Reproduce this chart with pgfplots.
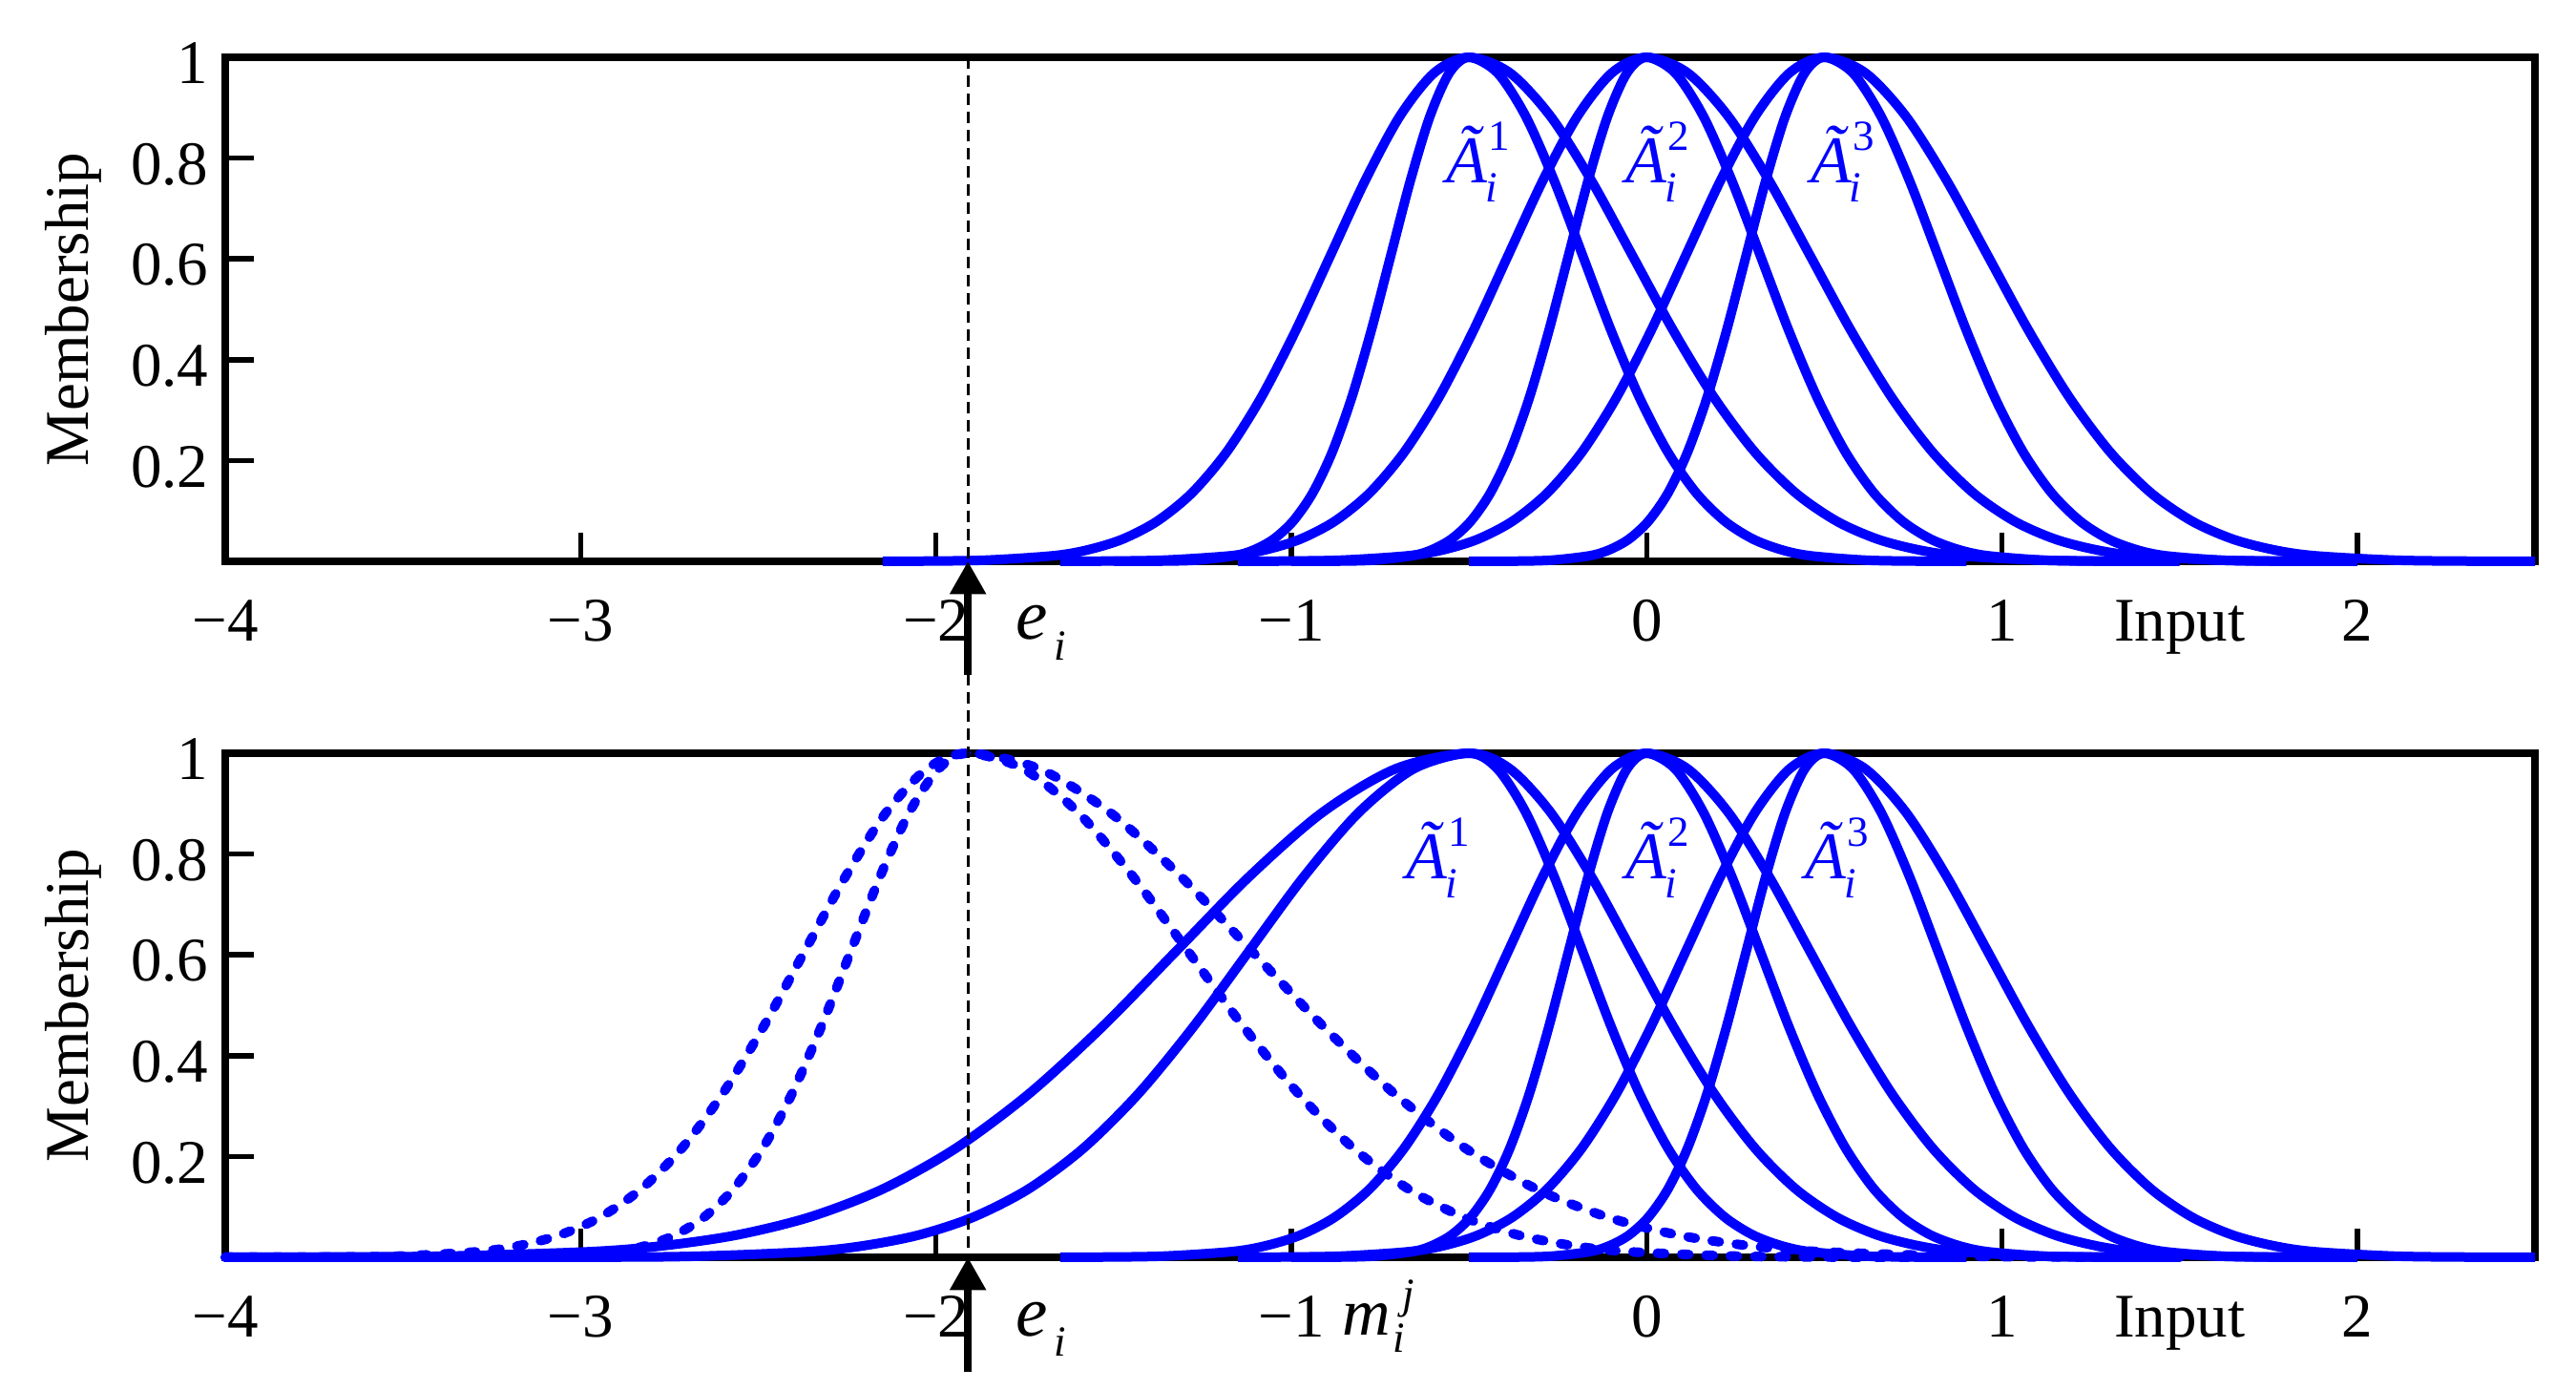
\documentclass[border=0pt]{standalone}
\usepackage{fontspec}
\setmainfont{Liberation Serif}
\usepackage{pgfplots}
\pgfplotsset{compat=1.18}
\usetikzlibrary{arrows.meta}
\definecolor{mfblue}{RGB}{0,0,255}

\newcommand{\Alab}[1]{\textit{Ã}\rlap{\fontsize{9}{10}\selectfont\hspace{-0.5pt}\raisebox{-4pt}{\textit{i}}\hspace{-1.8pt}\raisebox{6.8pt}{#1}}}

\pgfplotsset{
 mfaxis/.style={
  scale only axis, width=484pt, height=105.6pt,
  xmin=-4, xmax=2.5, ymin=0, ymax=1,
  xtick={-4,-3,-2,-1,0,1,2},
  xticklabels={−4,−3,−2,−1,0,1,2},
  ytick={0.2,0.4,0.6,0.8,1},
  yticklabels={0.2,0.4,0.6,0.8,1},
  tick align=inside, tick pos=left,
  major tick length=6pt,
  tick style={line width=1.1pt, black},
  axis line style={line width=1.5pt, black},
  clip=false,
  tick label style={font=\fontsize{13}{15}\selectfont},
  xticklabel style={anchor=base, yshift=-16.7pt},
  yticklabel style={yshift=-1.3pt},
 },
 ub/.style={mfblue, line width=2pt, smooth, line join=round},
 dot/.style={mfblue, line width=2pt, smooth, line cap=round, line join=round, dash pattern=on 1.5pt off 3.6pt},
}
\tikzset{lab/.style={mfblue, anchor=base, inner sep=0pt, font=\fontsize{14}{16}\selectfont}}

\begin{document}
\begin{tikzpicture}
\useasboundingbox (0,0) rectangle (539.8pt,291.2pt);

% ---------------- top panel ----------------
\begin{axis}[mfaxis, at={(47.2pt,173.6pt)}, anchor=south west]
% A1 upper
\addplot[ub] coordinates {(-2.15,0) (-2.06,0.0003) (-1.865,0.0022) (-1.67,0.0111) (-1.5725,0.0228) (-1.475,0.0439) (-1.3775,0.0796) (-1.28,0.1353) (-1.1825,0.2163) (-1.085,0.3247) (-0.9875,0.4578) (-0.89,0.6065) (-0.7925,0.7548) (-0.695,0.8825) (-0.5975,0.9692) (-0.5,1) (-0.385,0.9692) (-0.27,0.8825) (-0.155,0.7548) (-0.04,0.6065) (0.075,0.4578) (0.19,0.3247) (0.305,0.2163) (0.42,0.1353) (0.535,0.0796) (0.65,0.0439) (0.765,0.0228) (0.88,0.0111) (1.11,0.0022) (1.34,0.0003) (1.5,0)};
% A2 upper
\addplot[ub] coordinates {(-1.65,0) (-1.56,0.0003) (-1.365,0.0022) (-1.17,0.0111) (-1.0725,0.0228) (-0.975,0.0439) (-0.8775,0.0796) (-0.78,0.1353) (-0.6825,0.2163) (-0.585,0.3247) (-0.4875,0.4578) (-0.39,0.6065) (-0.2925,0.7548) (-0.195,0.8825) (-0.0975,0.9692) (0,1) (0.115,0.9692) (0.23,0.8825) (0.345,0.7548) (0.46,0.6065) (0.575,0.4578) (0.69,0.3247) (0.805,0.2163) (0.92,0.1353) (1.035,0.0796) (1.15,0.0439) (1.265,0.0228) (1.38,0.0111) (1.61,0.0022) (1.84,0.0003) (2.0,0)};
% A3 upper
\addplot[ub] coordinates {(-1.15,0) (-1.06,0.0003) (-0.865,0.0022) (-0.67,0.0111) (-0.5725,0.0228) (-0.475,0.0439) (-0.3775,0.0796) (-0.28,0.1353) (-0.1825,0.2163) (-0.085,0.3247) (0.0125,0.4578) (0.11,0.6065) (0.2075,0.7548) (0.305,0.8825) (0.4025,0.9692) (0.5,1) (0.615,0.9692) (0.73,0.8825) (0.845,0.7548) (0.96,0.6065) (1.075,0.4578) (1.19,0.3247) (1.305,0.2163) (1.42,0.1353) (1.535,0.0796) (1.65,0.0439) (1.765,0.0228) (1.88,0.0111) (2.11,0.0022) (2.34,0.0003) (2.5,0)};
% A1 lower
\addplot[ub] coordinates {(-1.5,0) (-1.38,0.0003) (-1.27,0.0022) (-1.16,0.0111) (-1.105,0.0228) (-1.05,0.0439) (-0.995,0.0796) (-0.94,0.1353) (-0.885,0.2163) (-0.83,0.3247) (-0.775,0.4578) (-0.72,0.6065) (-0.665,0.7548) (-0.61,0.8825) (-0.555,0.9692) (-0.5,1) (-0.42,0.9692) (-0.34,0.8825) (-0.26,0.7548) (-0.18,0.6065) (-0.10,0.4578) (-0.02,0.3247) (0.06,0.2163) (0.14,0.1353) (0.22,0.0796) (0.30,0.0439) (0.38,0.0228) (0.46,0.0111) (0.62,0.0022) (0.78,0.0003) (0.9,0)};
% A2 lower
\addplot[ub] coordinates {(-1.0,0) (-0.88,0.0003) (-0.77,0.0022) (-0.66,0.0111) (-0.605,0.0228) (-0.55,0.0439) (-0.495,0.0796) (-0.44,0.1353) (-0.385,0.2163) (-0.33,0.3247) (-0.275,0.4578) (-0.22,0.6065) (-0.165,0.7548) (-0.11,0.8825) (-0.055,0.9692) (0,1) (0.08,0.9692) (0.16,0.8825) (0.24,0.7548) (0.32,0.6065) (0.40,0.4578) (0.48,0.3247) (0.56,0.2163) (0.64,0.1353) (0.72,0.0796) (0.80,0.0439) (0.88,0.0228) (0.96,0.0111) (1.12,0.0022) (1.28,0.0003) (1.4,0)};
% A3 lower
\addplot[ub] coordinates {(-0.5,0) (-0.38,0.0003) (-0.27,0.0022) (-0.16,0.0111) (-0.105,0.0228) (-0.05,0.0439) (0.005,0.0796) (0.06,0.1353) (0.115,0.2163) (0.17,0.3247) (0.225,0.4578) (0.28,0.6065) (0.335,0.7548) (0.39,0.8825) (0.445,0.9692) (0.5,1) (0.58,0.9692) (0.66,0.8825) (0.74,0.7548) (0.82,0.6065) (0.90,0.4578) (0.98,0.3247) (1.06,0.2163) (1.14,0.1353) (1.22,0.0796) (1.30,0.0439) (1.38,0.0228) (1.46,0.0111) (1.62,0.0022) (1.78,0.0003) (2.0,0)};

\node[lab] at (axis cs:-0.505,0.75) {\Alab{1}};
\node[lab] at (axis cs:0,0.75) {\Alab{2}};
\node[lab] at (axis cs:0.52,0.75) {\Alab{3}};

\node[anchor=base, inner sep=0pt, font=\fontsize{13}{15}\selectfont, yshift=-16.7pt] at (axis cs:1.5,0) {Input};
\node[anchor=base west, inner sep=0pt, yshift=-16.4pt] at (axis cs:-1.777,0) {{\fontsize{15}{17}\selectfont\textit{e}}\hspace{1.4pt}\raisebox{-4.4pt}{\fontsize{9}{10}\selectfont\textit{i}}};
\node[rotate=90, font=\fontsize{13}{15}\selectfont] at (axis description cs:-0.0659,0.5) {Membership};

\coordinate (etop) at (axis cs:-1.91,1);
\coordinate (earr1) at (axis cs:-1.91,0);
\end{axis}

% ---------------- bottom panel ----------------
\begin{axis}[mfaxis, at={(47.2pt,27.8pt)}, anchor=south west]
% shifted set (dotted)
\addplot[dot] coordinates {(-4,0) (-3.75,0.0003) (-3.52,0.0022) (-3.29,0.0111) (-3.175,0.0228) (-3.06,0.0439) (-2.945,0.0796) (-2.83,0.1353) (-2.715,0.2163) (-2.6,0.3247) (-2.485,0.4578) (-2.37,0.6065) (-2.255,0.7548) (-2.14,0.8825) (-2.025,0.9692) (-1.91,1) (-1.71,0.9692) (-1.51,0.8825) (-1.31,0.7548) (-1.11,0.6065) (-0.91,0.4578) (-0.71,0.3247) (-0.51,0.2163) (-0.31,0.1353) (-0.11,0.0796) (0.09,0.0439) (0.29,0.0228) (0.49,0.0111) (0.89,0.0022) (1.29,0.0003) (1.5,0)};
\addplot[dot] coordinates {(-4,0) (-3.23,0.0003) (-3.065,0.0022) (-2.9,0.0111) (-2.8175,0.0228) (-2.735,0.0439) (-2.6525,0.0796) (-2.57,0.1353) (-2.4875,0.2163) (-2.405,0.3247) (-2.3225,0.4578) (-2.24,0.6065) (-2.1575,0.7548) (-2.075,0.8825) (-1.9925,0.9692) (-1.91,1) (-1.755,0.9692) (-1.6,0.8825) (-1.445,0.7548) (-1.29,0.6065) (-1.135,0.4578) (-0.98,0.3247) (-0.825,0.2163) (-0.67,0.1353) (-0.515,0.0796) (-0.36,0.0439) (-0.205,0.0228) (-0.05,0.0111) (0.26,0.0022) (0.57,0.0003) (0.8,0)};
% A1 upper (widened)
\addplot[ub] coordinates {(-4,0) (-3.8,0.0003) (-3.3875,0.0022) (-2.975,0.0111) (-2.769,0.0228) (-2.5625,0.0439) (-2.356,0.0796) (-2.15,0.1353) (-1.944,0.2163) (-1.7375,0.3247) (-1.531,0.4578) (-1.325,0.6065) (-1.119,0.7548) (-0.9125,0.8825) (-0.706,0.9692) (-0.5,1) (-0.385,0.9692) (-0.27,0.8825) (-0.155,0.7548) (-0.04,0.6065) (0.075,0.4578) (0.19,0.3247) (0.305,0.2163) (0.42,0.1353) (0.535,0.0796) (0.65,0.0439) (0.765,0.0228) (0.88,0.0111) (1.11,0.0022) (1.34,0.0003) (1.5,0)};
% A1 lower (widened)
\addplot[ub] coordinates {(-4,0) (-2.98,0.0003) (-2.67,0.0022) (-2.36,0.0111) (-2.205,0.0228) (-2.05,0.0439) (-1.895,0.0796) (-1.74,0.1353) (-1.585,0.2163) (-1.43,0.3247) (-1.275,0.4578) (-1.12,0.6065) (-0.965,0.7548) (-0.81,0.8825) (-0.655,0.9692) (-0.5,1) (-0.42,0.9692) (-0.34,0.8825) (-0.26,0.7548) (-0.18,0.6065) (-0.10,0.4578) (-0.02,0.3247) (0.06,0.2163) (0.14,0.1353) (0.22,0.0796) (0.30,0.0439) (0.38,0.0228) (0.46,0.0111) (0.62,0.0022) (0.78,0.0003) (0.9,0)};
% A2 upper
\addplot[ub] coordinates {(-1.65,0) (-1.56,0.0003) (-1.365,0.0022) (-1.17,0.0111) (-1.0725,0.0228) (-0.975,0.0439) (-0.8775,0.0796) (-0.78,0.1353) (-0.6825,0.2163) (-0.585,0.3247) (-0.4875,0.4578) (-0.39,0.6065) (-0.2925,0.7548) (-0.195,0.8825) (-0.0975,0.9692) (0,1) (0.115,0.9692) (0.23,0.8825) (0.345,0.7548) (0.46,0.6065) (0.575,0.4578) (0.69,0.3247) (0.805,0.2163) (0.92,0.1353) (1.035,0.0796) (1.15,0.0439) (1.265,0.0228) (1.38,0.0111) (1.61,0.0022) (1.84,0.0003) (2.0,0)};
% A3 upper
\addplot[ub] coordinates {(-1.15,0) (-1.06,0.0003) (-0.865,0.0022) (-0.67,0.0111) (-0.5725,0.0228) (-0.475,0.0439) (-0.3775,0.0796) (-0.28,0.1353) (-0.1825,0.2163) (-0.085,0.3247) (0.0125,0.4578) (0.11,0.6065) (0.2075,0.7548) (0.305,0.8825) (0.4025,0.9692) (0.5,1) (0.615,0.9692) (0.73,0.8825) (0.845,0.7548) (0.96,0.6065) (1.075,0.4578) (1.19,0.3247) (1.305,0.2163) (1.42,0.1353) (1.535,0.0796) (1.65,0.0439) (1.765,0.0228) (1.88,0.0111) (2.11,0.0022) (2.34,0.0003) (2.5,0)};
% A2 lower
\addplot[ub] coordinates {(-1.0,0) (-0.88,0.0003) (-0.77,0.0022) (-0.66,0.0111) (-0.605,0.0228) (-0.55,0.0439) (-0.495,0.0796) (-0.44,0.1353) (-0.385,0.2163) (-0.33,0.3247) (-0.275,0.4578) (-0.22,0.6065) (-0.165,0.7548) (-0.11,0.8825) (-0.055,0.9692) (0,1) (0.08,0.9692) (0.16,0.8825) (0.24,0.7548) (0.32,0.6065) (0.40,0.4578) (0.48,0.3247) (0.56,0.2163) (0.64,0.1353) (0.72,0.0796) (0.80,0.0439) (0.88,0.0228) (0.96,0.0111) (1.12,0.0022) (1.28,0.0003) (1.4,0)};
% A3 lower
\addplot[ub] coordinates {(-0.5,0) (-0.38,0.0003) (-0.27,0.0022) (-0.16,0.0111) (-0.105,0.0228) (-0.05,0.0439) (0.005,0.0796) (0.06,0.1353) (0.115,0.2163) (0.17,0.3247) (0.225,0.4578) (0.28,0.6065) (0.335,0.7548) (0.39,0.8825) (0.445,0.9692) (0.5,1) (0.58,0.9692) (0.66,0.8825) (0.74,0.7548) (0.82,0.6065) (0.90,0.4578) (0.98,0.3247) (1.06,0.2163) (1.14,0.1353) (1.22,0.0796) (1.30,0.0439) (1.38,0.0228) (1.46,0.0111) (1.62,0.0022) (1.78,0.0003) (2.0,0)};

\node[lab] at (axis cs:-0.618,0.75) {\Alab{1}};
\node[lab] at (axis cs:0,0.75) {\Alab{2}};
\node[lab] at (axis cs:0.505,0.75) {\Alab{3}};

\node[anchor=base, inner sep=0pt, font=\fontsize{13}{15}\selectfont, yshift=-16.7pt] at (axis cs:1.5,0) {Input};
\node[anchor=base west, inner sep=0pt, yshift=-16.4pt] at (axis cs:-1.777,0) {{\fontsize{15}{17}\selectfont\textit{e}}\hspace{1.4pt}\raisebox{-4.4pt}{\fontsize{9}{10}\selectfont\textit{i}}};
\node[anchor=base west, inner sep=0pt, yshift=-16.3pt] at (axis cs:-0.86,0) {{\fontsize{14}{16}\selectfont\textit{m}}\rlap{\hspace{0.5pt}\raisebox{-3.7pt}{\fontsize{9}{10}\selectfont\textit{i}}}\hspace{2.6pt}\raisebox{5.6pt}{\fontsize{9}{10}\selectfont\textit{j}}};
\node[rotate=90, font=\fontsize{13}{15}\selectfont] at (axis description cs:-0.0659,0.5) {Membership};

\coordinate (ebot) at (axis cs:-1.91,0);
\end{axis}

\draw[black, line width=0.6pt, dash pattern=on 2.4pt off 1.4pt] (etop) -- (ebot);
\draw[black, line width=1.5pt, -{Triangle[width=7.3pt,length=6.9pt]}] ([yshift=-23.8pt]earr1) -- (earr1);
\draw[black, line width=1.5pt, -{Triangle[width=7.3pt,length=6.9pt]}] ([yshift=-24pt]ebot) -- (ebot);
\end{tikzpicture}
\end{document}
